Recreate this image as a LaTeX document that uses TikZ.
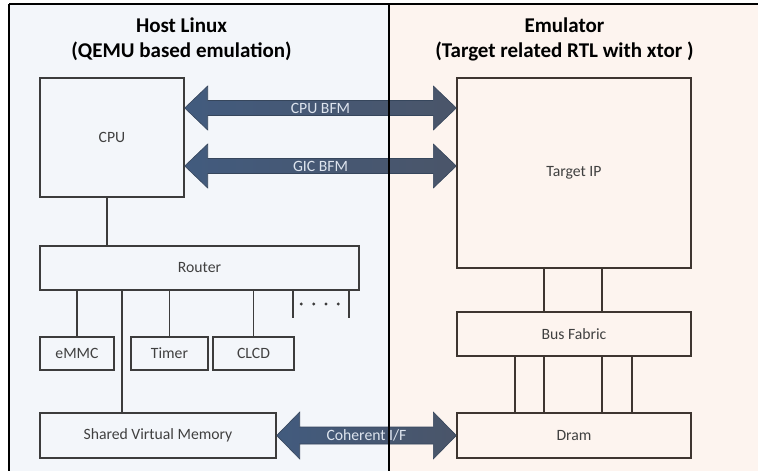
\documentclass[tikz,border=0pt]{standalone}
\usepackage{fontspec}
\setmainfont{Carlito}
\usetikzlibrary{calc}

\definecolor{hostbg}{HTML}{F3F6FA}
\definecolor{emubg}{HTML}{FDF4EF}
\definecolor{hostline}{HTML}{3C3C3C}
\definecolor{emuline}{HTML}{3E3530}
\definecolor{boxtext}{HTML}{404040}
\definecolor{arrowL}{HTML}{425B7E}
\definecolor{arrowR}{HTML}{4A5569}
\definecolor{arrowedge}{HTML}{36465C}
\definecolor{arrowtext}{HTML}{DDE4EE}

% wide double-headed bus arrow between two points:
% #1 start, #2 end, #3 half height of the heads, #4 half height of the shaft, #5 label
\newcommand\busarrow[5]{%
  \shade[left color=arrowL, right color=arrowR, draw=arrowedge, line width=0.6pt, line join=miter]
    (#1) -- ($(#1)+(23,-#3)$) -- ($(#1)+(23,-#4)$) -- ($(#2)+(-23,-#4)$) -- ($(#2)+(-23,-#3)$) -- (#2)
    -- ($(#2)+(-23,#3)$) -- ($(#2)+(-23,#4)$) -- ($(#1)+(23,#4)$) -- ($(#1)+(23,#3)$) -- cycle;
  \node[arrowlabel] at ($(#1)!0.5!(#2)$) {#5};
}

\begin{document}
\begin{tikzpicture}[x=1pt, y=-1pt,
  font=\fontsize{15.7}{18}\selectfont,
  hostbox/.style={draw=hostline, line width=1.4pt, text=boxtext, inner sep=0pt, rectangle},
  emubox/.style={draw=emuline, line width=1.4pt, text=boxtext, inner sep=0pt, rectangle},
  hostwire/.style={draw=hostline, line width=1.4pt},
  emuwire/.style={draw=emuline, line width=1.4pt},
  paneltitle/.style={font=\fontsize{21}{25}\selectfont\bfseries, text=black, anchor=base, inner sep=0pt},
  arrowlabel/.style={text=arrowtext, inner sep=0pt},
  dotmark/.style={fill=hostline}
]
\useasboundingbox (0,0) rectangle (758,471);
\clip (0,0) rectangle (758,471);

% the two panels
\fill[hostbg] (9,4) rectangle (389,480);
\fill[emubg] (389,4) rectangle (770,480);

% panel titles
\node[paneltitle] (hostA) at (181.5,32.5) {Host Linux};
\node[paneltitle] (hostB) at (181.5,57.5) {(QEMU based emulation)};
\node[paneltitle] (emuA) at (564.5,32) {Emulator};
\node[paneltitle] (emuB) at (564.5,57.5) {(Target related RTL with xtor )};

% host side blocks
\node[hostbox, minimum width=144pt, minimum height=119pt] (cpu) at (112,137.5) {CPU};
\node[hostbox, minimum width=319pt, minimum height=44pt] (router) at (199.5,268) {Router};
\node[hostbox, minimum width=74pt, minimum height=33pt] (emmc) at (77,353.5) {eMMC};
\node[hostbox, minimum width=77pt, minimum height=33pt] (timer) at (169.5,353.5) {Timer};
\node[hostbox, minimum width=81pt, minimum height=33pt] (clcd) at (253.5,353.5) {CLCD};
\node[hostbox, minimum width=236pt, minimum height=45pt] (svm) at (158,435.5) {Shared Virtual Memory};

% emulator side blocks
\node[emubox, minimum width=234pt, minimum height=190pt] (tip) at (574,173) {Target IP};
\node[emubox, minimum width=234pt, minimum height=44pt] (bus) at (574,334) {Bus Fabric};
\node[emubox, minimum width=234pt, minimum height=45pt] (dram) at (574,435.5) {Dram};

% host side wiring
\draw[hostwire] (cpu.south -| 107,0) -- (router.north -| 107,0);
\draw[hostwire] (router.south -| emmc.north) -- (emmc.north);
\draw[hostwire] (router.south -| timer.north) -- (timer.north);
\draw[hostwire] (router.south -| clcd.north) -- (clcd.north);
\draw[hostwire] (router.south -| 122,0) -- (svm.north -| 122,0);
\coordinate (stubA) at (293,318);
\coordinate (stubB) at (349,318);
\draw[hostwire] (router.south -| stubA) -- (stubA);
\draw[hostwire] (router.south -| stubB) -- (stubB);
\foreach \dx in {301.3,313.7,326,338.3}
  \fill[dotmark] (\dx,304) circle (1.6pt);

% emulator side wiring
\foreach \wx in {544,602}
  \draw[emuwire] (tip.south -| \wx,0) -- (bus.north -| \wx,0);
\foreach \wx in {515,544,602,632}
  \draw[emuwire] (bus.south -| \wx,0) -- (dram.north -| \wx,0);

% bus functional model links and coherent interface
\coordinate (cpuA) at (cpu.east |- 0,108);
\coordinate (cpuB) at (tip.west |- 0,108);
\coordinate (gicA) at (cpu.east |- 0,166);
\coordinate (gicB) at (tip.west |- 0,166);
\coordinate (cohA) at (svm.east |- 0,435.5);
\coordinate (cohB) at (dram.west |- 0,435.5);
\busarrow{cpuA}{cpuB}{22}{7.5}{CPU BFM}
\busarrow{gicA}{gicB}{22}{7.5}{GIC BFM}
\busarrow{cohA}{cohB}{23.5}{8.5}{Coherent I/F}

% panel frame and divider on top
\draw[line width=1.6pt, black] (9,4) -- (9,480);
\draw[line width=1.6pt, black] (9,4) -- (770,4);
\draw[line width=2pt, black] (389,4) -- (389,480);
\end{tikzpicture}
\end{document}
